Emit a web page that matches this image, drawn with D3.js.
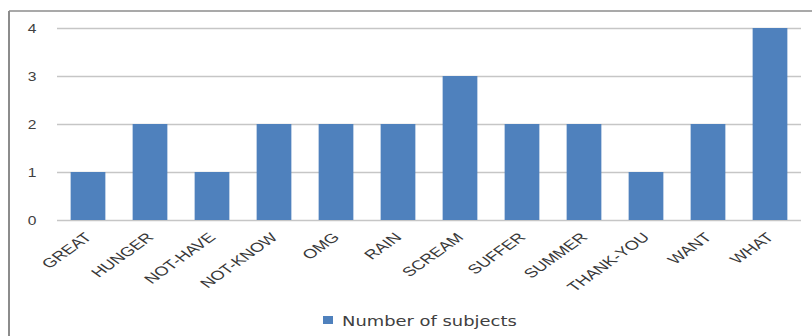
<!DOCTYPE html>
<html>
<head>
<meta charset="utf-8">
<script src="https://cdn.jsdelivr.net/npm/d3@7"></script>
<style>
  body { margin: 0; background: #fff; }
  svg { display: block; font-family: "DejaVu Sans", Verdana, sans-serif; }
</style>
</head>
<body>
<div id="chart"></div>
<script>
// Chart data
const categories = ["GREAT", "HUNGER", "NOT-HAVE", "NOT-KNOW", "OMG", "RAIN", "SCREAM", "SUFFER", "SUMMER", "THANK-YOU", "WANT", "WHAT"];
const subjects = [1, 2, 1, 2, 2, 2, 3, 2, 2, 1, 2, 4];
const yTicks = [0, 1, 2, 3, 4];
const seriesName = "Number of subjects";

const W = 812, H = 336;
const margin = { top: 28, right: 11, bottom: 116, left: 57 };
const width = W - margin.left - margin.right;
const height = H - margin.top - margin.bottom;

// the source picture is stretched sideways, so text is widened a bit
const stretch = 1.4;

const svg = d3.select("#chart").append("svg")
    .attr("width", W)
    .attr("height", H);

// Outer frame (top and left edges visible)
svg.append("line")
    .attr("x1", 9).attr("x2", W).attr("y1", 11).attr("y2", 11)
    .attr("stroke", "#8c8c8c").attr("stroke-width", 1.5);
svg.append("line")
    .attr("x1", 9).attr("x2", 9).attr("y1", 11).attr("y2", H)
    .attr("stroke", "#8c8c8c").attr("stroke-width", 2);

const g = svg.append("g")
    .attr("transform", `translate(${margin.left},${margin.top})`);

const x = d3.scaleBand()
    .domain(categories)
    .range([0, width])
    .paddingInner(0.44)
    .paddingOuter(0.22);

const y = d3.scaleLinear()
    .domain([0, 4])
    .range([height, 0]);

// Gridlines + y labels
const yAxis = g.append("g")
    .call(d3.axisLeft(y).tickValues(yTicks).tickSize(-width).tickFormat(d3.format("d")));
yAxis.select(".domain").remove();
yAxis.selectAll(".tick line")
    .attr("stroke", "#c6c6c6")
    .attr("stroke-width", 1.5);
yAxis.selectAll(".tick text")
    .attr("x", 0)
    .attr("dy", "0.36em")
    .attr("transform", "translate(-25,0) scale(1.2,1)")
    .attr("fill", "#404040")
    .style("font-size", "13px")
    .style("text-anchor", "middle");

// Bars
g.selectAll(".bar")
    .data(categories)
    .enter()
    .append("rect")
    .attr("class", "bar")
    .attr("x", d => x(d))
    .attr("y", (d, i) => y(subjects[i]))
    .attr("width", x.bandwidth())
    .attr("height", (d, i) => height - y(subjects[i]))
    .attr("fill", "#4f81bd");

// X axis labels (rotated)
const xAxis = g.append("g")
    .attr("transform", `translate(0,${height})`)
    .call(d3.axisBottom(x).tickSize(0));
xAxis.select(".domain").remove();
xAxis.selectAll(".tick text")
    .attr("fill", "#383838")
    .style("font-size", "13px")
    .style("text-anchor", "end")
    .attr("x", 0)
    .attr("y", 0)
    .attr("dy", "0.35em")
    .attr("transform", `translate(0,15) scale(${stretch},1) rotate(-45)`);

// Legend
const legend = svg.append("g")
    .attr("transform", "translate(323,321)");
legend.append("rect")
    .attr("x", 0).attr("y", -5)
    .attr("width", 10).attr("height", 8)
    .attr("fill", "#4f81bd");
legend.append("text")
    .attr("x", 0).attr("y", 0)
    .attr("dy", "0.36em")
    .attr("transform", "translate(19,0) scale(1.28,1)")
    .attr("fill", "#404040")
    .style("font-size", "14px")
    .text(seriesName);
</script>
</body>
</html>
